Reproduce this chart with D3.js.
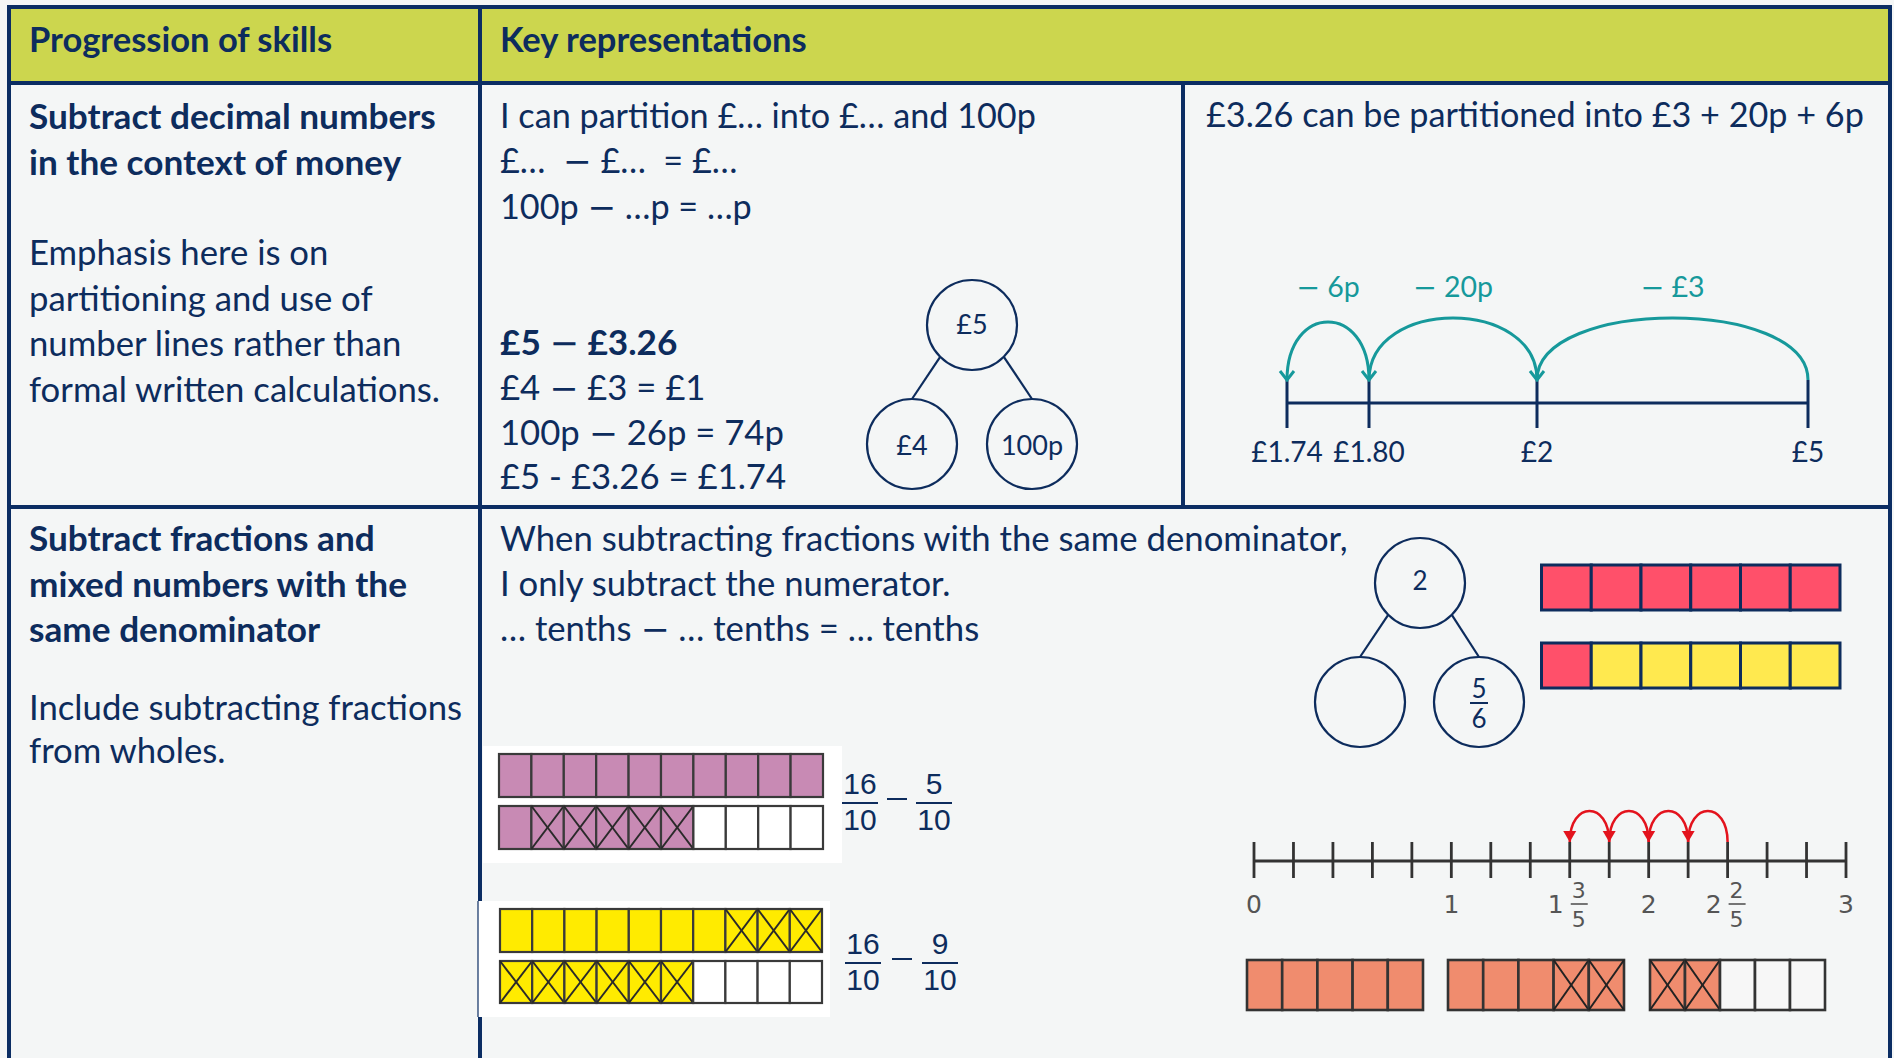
<!DOCTYPE html>
<html><head><meta charset="utf-8">
<script src="https://cdn.jsdelivr.net/npm/d3@7"></script>
<style>
html,body{margin:0;padding:0;background:#f4f6f6;overflow:hidden;}
svg{display:block;}
text{font-family:Lato,"Open Sans",sans-serif;white-space:pre;}
</style></head><body>
<svg id="chart" width="1894" height="1058"></svg>
<script>
// ---------------- data ----------------
const headers = ["Progression of skills", "Key representations"];
const skill1Title = ["Subtract decimal numbers", "in the context of money"];
const skill1Note = ["Emphasis here is on", "partitioning and use of", "number lines rather than", "formal written calculations."];
const skill2Title = ["Subtract fractions and", "mixed numbers with the", "same denominator"];
const skill2Note = ["Include subtracting fractions", "from wholes."];
const moneyPrompts = ["I can partition £… into £… and 100p", "£…  − £…  = £…", "100p − …p = …p"];
const moneyExample = "£5 − £3.26";
const moneySteps = ["£4 − £3 = £1", "100p − 26p = 74p", "£5 - £3.26 = £1.74"];
const moneyWhole = "£5";
const moneyParts = ["£4", "100p"];
const moneyPartitionText = "£3.26 can be partitioned into £3 + 20p + 6p";
const moneyTicks = [1.74, 1.80, 2, 5];
const moneyTickLabels = ["£1.74", "£1.80", "£2", "£5"];
const moneyJumps = [
  {from: 5, to: 2, label: "− £3"},
  {from: 2, to: 1.80, label: "− 20p"},
  {from: 1.80, to: 1.74, label: "− 6p"}
];
const fracPrompts = ["When subtracting fractions with the same denominator,", "I only subtract the numerator.", "… tenths − … tenths = … tenths"];
const pinkBars = ["ffffffffff", "fxxxxxeeee"];
const yellowBars = ["fffffffxxx", "xxxxxxeeee"];
const fracSums = [{a: "16", b: "5", d: "10"}, {a: "16", b: "9", d: "10"}];
const sixthWhole = "2";
const sixthParts = [null, {n: "5", d: "6"}];
const sixthBars = ["rrrrrr", "ryyyyy"];
const fifthTicks = [0, 0.2, 0.4, 0.6, 0.8, 1, 1.2, 1.4, 1.6, 1.8, 2, 2.2, 2.4, 2.6, 2.8, 3];
const fifthLabels = [
  {v: 0, w: "0"}, {v: 1, w: "1"}, {v: 1.6, w: "1", n: "3", d: "5"},
  {v: 2, w: "2"}, {v: 2.4, w: "2", n: "2", d: "5"}, {v: 3, w: "3"}
];
const fifthJumps = [{from: 2.4, to: 2.2}, {from: 2.2, to: 2.0}, {from: 2.0, to: 1.8}, {from: 1.8, to: 1.6}];
const fifthBars = ["fffff", "fffxx", "xxeee"];

// ---------------- style ----------------
const NAVY = "#0d2c5d", BORDER = "#0b2d63", HEAD = "#ccd64e", BG = "#f4f6f6";
const TEAL = "#16999b", RED = "#e3131d", GREY = "#333333";
const svg = d3.select("#chart");
const defs = svg.append("defs");

defs.append("marker").attr("id", "teal-arrow").attr("markerUnits", "userSpaceOnUse")
  .attr("viewBox", "-12 -9 14 18").attr("markerWidth", 14).attr("markerHeight", 18)
  .attr("refX", 0).attr("refY", 0).attr("orient", "auto")
  .append("path").attr("d", "M-9,-7 L0,0 L-9,7").attr("fill", "none")
  .attr("stroke", TEAL).attr("stroke-width", 3).attr("stroke-linejoin", "miter");
defs.append("marker").attr("id", "red-arrow").attr("markerUnits", "userSpaceOnUse")
  .attr("viewBox", "-12 -8 13 16").attr("markerWidth", 13).attr("markerHeight", 16)
  .attr("refX", 0).attr("refY", 0).attr("orient", "auto")
  .append("path").attr("d", "M-11,-6.5 L0,0 L-11,6.5 Z").attr("fill", RED);

// ---------------- table ----------------
const L = 9, R = 1890, T = 7, HB = 83, RB = 507, C1 = 480, C2 = 1183, B = 1060;
svg.append("rect").attr("width", 1894).attr("height", 1058).attr("fill", BG);
svg.append("rect").attr("x", L).attr("y", T).attr("width", R - L).attr("height", HB - T).attr("fill", HEAD);
const borders = svg.append("g").attr("stroke", BORDER).attr("stroke-width", 4);
[[L, T, R, T], [L, HB, R, HB], [L, RB, R, RB], [L, T - 2, L, B], [R, T - 2, R, B], [C1, T, C1, B], [C2, HB, C2, RB]]
  .forEach(d => borders.append("line").attr("x1", d[0]).attr("y1", d[1]).attr("x2", d[2]).attr("y2", d[3]));

// text helper: minus signs drawn with a wider glyph (like the original's maths font)
function text(g, x, y, s, size, weight, opts = {}) {
  const t = g.append("text").attr("x", x).attr("y", y).attr("dy", "0.35em")
    .attr("font-size", size).attr("font-weight", weight || 400)
    .attr("fill", opts.fill || NAVY).attr("text-anchor", opts.anchor || "start")
    .style("font-family", opts.family || null);
  const parts = s.split("−");
  parts.forEach((p, i) => {
    if (i > 0) t.append("tspan").style("font-family", "'DejaVu Sans'").attr("font-weight", 400).text("−");
    if (p) t.append("tspan").text(p);
  });
  return t;
}

// headers
const headX = [29, 500];
headers.forEach((h, i) => text(svg, headX[i], 40, h, 34.5, 700));

// ---------------- row 1 ----------------
const BODY = 34.7, BOLD = 35.2;
const lineY = d3.scaleLinear().domain([0, 1]).range([0, 45.5]);
skill1Title.forEach((s, i) => text(svg, 29, 117 + lineY(i), s, BOLD, 700));
skill1Note.forEach((s, i) => text(svg, 29, 253 + lineY(i), s, BODY, 400));
moneyPrompts.forEach((s, i) => text(svg, 500, 116 + lineY(i), s, 34.2, 400));
text(svg, 500, 343, moneyExample, BOLD, 700);
moneySteps.forEach((s, i) => text(svg, 500, 388 + lineY(i) * 0.98, s, BODY, 400));

// part-whole model helper
function partWhole(g, top, left, right, r) {
  const c = g.append("g");
  const k = Math.SQRT1_2 * r;
  [[top.x - k, top.y + k, left.x, left.y - r], [top.x + k, top.y + k, right.x, right.y - r]]
    .forEach(d => c.append("line").attr("x1", d[0]).attr("y1", d[1]).attr("x2", d[2]).attr("y2", d[3])
      .attr("stroke", NAVY).attr("stroke-width", 2.2));
  [top, left, right].forEach(p => c.append("circle").attr("cx", p.x).attr("cy", p.y).attr("r", r)
    .attr("fill", "none").attr("stroke", NAVY).attr("stroke-width", 2.2));
  return c;
}
const pw1 = partWhole(svg, {x: 972, y: 325}, {x: 912, y: 444}, {x: 1032, y: 444}, 45);
text(pw1, 972, 325, moneyWhole, 27, 400, {anchor: "middle"});
moneyParts.forEach((s, i) => text(pw1, [912, 1032][i], 446, s, 27, 400, {anchor: "middle"}));

// right panel
text(svg, 1206, 115, moneyPartitionText, 34.2, 400);
const mx = d3.scaleLinear().domain(moneyTicks).range([1287, 1369, 1537, 1808]);
const nlY = 403, tickTop = 380, tickBot = 428;
const mline = svg.append("g").attr("stroke", NAVY).attr("stroke-width", 3);
mline.append("line").attr("x1", mx(d3.min(moneyTicks))).attr("x2", mx(d3.max(moneyTicks))).attr("y1", nlY).attr("y2", nlY);
moneyTicks.forEach(v => mline.append("line").attr("x1", mx(v)).attr("x2", mx(v)).attr("y1", tickTop).attr("y2", tickBot));
moneyTicks.forEach((v, i) => text(svg, mx(v), 452, moneyTickLabels[i], 28, 400, {anchor: "middle"}));

function jumpPath(x0, x1, yBase, peak) {
  const c = (8 * peak - 2 * yBase) / 6;
  return `M${x0},${yBase} C${x0},${c} ${x1},${c} ${x1},${yBase}`;
}
const tealPeaks = [318, 318, 322];
moneyJumps.forEach((j, i) => {
  svg.append("path").attr("d", jumpPath(mx(j.from), mx(j.to), tickTop, tealPeaks[i]))
    .attr("fill", "none").attr("stroke", TEAL).attr("stroke-width", 3).attr("marker-end", "url(#teal-arrow)");
  text(svg, (mx(j.from) + mx(j.to)) / 2, 287, j.label, 28.5, 400, {anchor: "middle", fill: TEAL});
});

// ---------------- row 2 ----------------
skill2Title.forEach((s, i) => text(svg, 29, 539 + lineY(i), s, BOLD, 700));
skill2Note.forEach((s, i) => text(svg, 29, 708 + lineY(i) * 0.95, s, BODY, 400));
fracPrompts.forEach((s, i) => text(svg, 500, 539 + lineY(i) * 0.99, s, BODY, 400));

// cell bar helper
function cellBar(g, pattern, x0, x1, y0, y1, colors, stroke, sw, crossStroke) {
  const xs = d3.scaleBand().domain(d3.range(pattern.length)).range([x0, x1]);
  const bg = g.append("g");
  pattern.split("").forEach((c, i) => {
    const x = xs(i), w = xs.bandwidth();
    bg.append("rect").attr("x", x).attr("y", y0).attr("width", w).attr("height", y1 - y0)
      .attr("fill", colors[c]).attr("stroke", stroke).attr("stroke-width", sw);
    if (c === "x") {
      [[x, y0, x + w, y1], [x + w, y0, x, y1]].forEach(d => bg.append("line")
        .attr("x1", d[0]).attr("y1", d[1]).attr("x2", d[2]).attr("y2", d[3])
        .attr("stroke", crossStroke).attr("stroke-width", 2));
    }
  });
}

// white panels behind tenths bars
svg.append("rect").attr("x", 483).attr("y", 746).attr("width", 359).attr("height", 117).attr("fill", "#ffffff");
svg.append("rect").attr("x", 478).attr("y", 901).attr("width", 352).attr("height", 116).attr("fill", "#ffffff");
svg.append("line").attr("x1", 478).attr("x2", 478).attr("y1", 901).attr("y2", 1017).attr("stroke", BORDER).attr("stroke-width", 1.2);

const pinkC = {f: "#c88ab4", x: "#c88ab4", e: "#ffffff"};
const yellowC = {f: "#ffeb00", x: "#ffeb00", e: "#ffffff"};
const tenthRowsY = [[754, 797], [806, 849]];
pinkBars.forEach((p, i) => cellBar(svg, p, 499, 823, tenthRowsY[i][0], tenthRowsY[i][1], pinkC, "#3a3a3a", 2.2, "#2a2a2a"));
const tenthRowsY2 = [[909, 952], [961, 1003]];
yellowBars.forEach((p, i) => cellBar(svg, p, 500, 822, tenthRowsY2[i][0], tenthRowsY2[i][1], yellowC, "#3a3a3a", 2.2, "#2a2a2a"));

// fractions
function frac(g, cx, barY, n, d, size, barW) {
  text(g, cx, barY - 19.5, n, size, 400, {anchor: "middle", family: "'Liberation Sans'"});
  g.append("line").attr("x1", cx - barW / 2).attr("x2", cx + barW / 2).attr("y1", barY).attr("y2", barY)
    .attr("stroke", NAVY).attr("stroke-width", 2);
  text(g, cx, barY + 16, d, size, 400, {anchor: "middle", family: "'Liberation Sans'"});
}
const sumLayout = [{x1: 860, x2: 934, mx: 897, y: 803}, {x1: 863, x2: 940, mx: 902, y: 963}];
fracSums.forEach((s, i) => {
  const Lo = sumLayout[i];
  frac(svg, Lo.x1, Lo.y, s.a, s.d, 30, 36);
  svg.append("line").attr("x1", Lo.mx - 10).attr("x2", Lo.mx + 10).attr("y1", Lo.y - 4).attr("y2", Lo.y - 4)
    .attr("stroke", NAVY).attr("stroke-width", 2);
  frac(svg, Lo.x2, Lo.y, s.b, s.d, 30, 36);
});

// part-whole for 2
const pw2 = partWhole(svg, {x: 1420, y: 583}, {x: 1360, y: 702}, {x: 1479, y: 702}, 45);
text(pw2, 1420, 581, sixthWhole, 26, 400, {anchor: "middle"});
sixthParts.forEach((p, i) => {
  if (!p) return;
  const cx = [1360, 1479][i];
  text(pw2, cx, 689, p.n, 26, 400, {anchor: "middle"});
  pw2.append("line").attr("x1", cx - 9).attr("x2", cx + 9).attr("y1", 703).attr("y2", 703).attr("stroke", NAVY).attr("stroke-width", 2);
  text(pw2, cx, 719, p.d, 26, 400, {anchor: "middle"});
});

// sixths bars
const sixthC = {r: "#ff506a", y: "#ffe94f"};
const sixthRowsY = [[565, 610], [643, 688]];
sixthBars.forEach((p, i) => cellBar(svg, p, 1541.5, 1840, sixthRowsY[i][0], sixthRowsY[i][1], sixthC, NAVY, 3, NAVY));

// fifths number line
const fx = d3.scaleLinear().domain([0, 3]).range([1254, 1846]);
const fl = svg.append("g").attr("stroke", GREY).attr("stroke-width", 2.8);
fl.append("line").attr("x1", fx(0)).attr("x2", fx(3)).attr("y1", 861).attr("y2", 861);
fifthTicks.forEach(v => fl.append("line").attr("x1", fx(v)).attr("x2", fx(v)).attr("y1", 842).attr("y2", 878));
const LG = "#555555";
fifthLabels.forEach(l => {
  const x = fx(l.v);
  if (!l.n) {
    text(svg, x, 904, l.w, 25, 400, {anchor: "middle", fill: LG, family: "'DejaVu Sans'"});
  } else {
    text(svg, x - 14, 904, l.w, 25, 400, {anchor: "middle", fill: LG, family: "'DejaVu Sans'"});
    text(svg, x + 9, 890, l.n, 22, 400, {anchor: "middle", fill: LG, family: "'DejaVu Sans'"});
    svg.append("line").attr("x1", x + 1).attr("x2", x + 18).attr("y1", 904).attr("y2", 904).attr("stroke", LG).attr("stroke-width", 1.6);
    text(svg, x + 9, 919, l.d, 22, 400, {anchor: "middle", fill: LG, family: "'DejaVu Sans'"});
  }
});
fifthJumps.forEach(j => {
  svg.append("path").attr("d", jumpPath(fx(j.from), fx(j.to), 842, 811))
    .attr("fill", "none").attr("stroke", RED).attr("stroke-width", 2.5).attr("marker-end", "url(#red-arrow)");
});

// fifths bars
const salmonC = {f: "#f08c6e", x: "#f08c6e", e: "#f7f7f7"};
const fifthBarX = [[1247, 1423], [1448, 1624], [1650, 1825]];
fifthBars.forEach((p, i) => cellBar(svg, p, fifthBarX[i][0], fifthBarX[i][1], 960, 1010, salmonC, GREY, 2.6, "#222"));
</script>
</body></html>
